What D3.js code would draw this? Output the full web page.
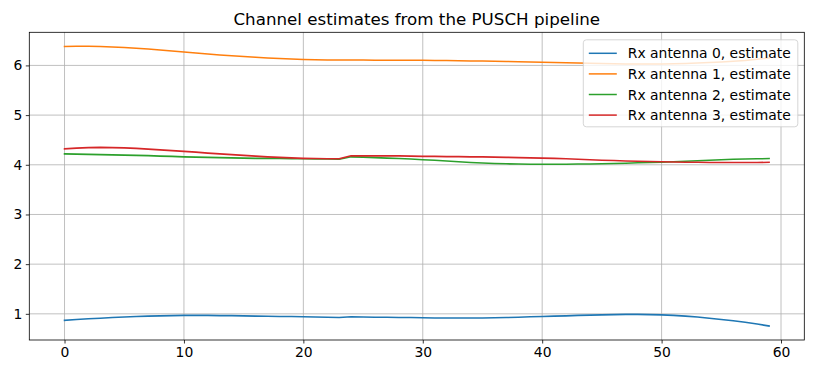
<!DOCTYPE html>
<html>
<head>
<meta charset="utf-8">
<script src="https://cdn.jsdelivr.net/npm/d3@7"></script>
<style>
  body { margin: 0; background: #fff; }
  text { font-family: "DejaVu Sans", sans-serif; }
</style>
</head>
<body>
<div id="chart"></div>
<script>
// subcarrier index 0..59 and one estimate per Rx antenna
const xTicks = [0, 10, 20, 30, 40, 50, 60];
const yTicks = [1, 2, 3, 4, 5, 6];
const seriesNames = ["Rx antenna 0, estimate", "Rx antenna 1, estimate",
                     "Rx antenna 2, estimate", "Rx antenna 3, estimate"];
const colors = ["#1f77b4", "#ff7f0e", "#2ca02c", "#d62728"];

const antenna0 = [0.87, 0.885, 0.90, 0.91, 0.925, 0.935, 0.945, 0.955, 0.96, 0.965,
  0.97, 0.97, 0.97, 0.965, 0.965, 0.96, 0.955, 0.95, 0.945, 0.945,
  0.94, 0.935, 0.93, 0.925, 0.94, 0.935, 0.93, 0.93, 0.925, 0.925,
  0.92, 0.915, 0.915, 0.915, 0.915, 0.915, 0.92, 0.925, 0.93, 0.94,
  0.945, 0.955, 0.96, 0.97, 0.975, 0.98, 0.985, 0.99, 0.99, 0.985,
  0.98, 0.97, 0.955, 0.935, 0.91, 0.885, 0.86, 0.83, 0.795, 0.755];
const antenna1 = [6.38, 6.385, 6.385, 6.38, 6.37, 6.36, 6.345, 6.33, 6.31, 6.29,
  6.27, 6.25, 6.23, 6.21, 6.195, 6.18, 6.165, 6.15, 6.14, 6.13,
  6.12, 6.115, 6.11, 6.11, 6.11, 6.11, 6.105, 6.105, 6.105, 6.105,
  6.105, 6.10, 6.10, 6.095, 6.09, 6.09, 6.085, 6.08, 6.075, 6.07,
  6.065, 6.06, 6.055, 6.05, 6.045, 6.04, 6.035, 6.03, 6.03, 6.03,
  6.03, 6.035, 6.04, 6.05, 6.06, 6.07, 6.085, 6.10, 6.125, 6.15];
const antenna2 = [4.22, 4.215, 4.21, 4.205, 4.20, 4.195, 4.19, 4.185, 4.175, 4.17,
  4.16, 4.155, 4.15, 4.145, 4.14, 4.135, 4.13, 4.13, 4.125, 4.12,
  4.12, 4.115, 4.115, 4.11, 4.16, 4.155, 4.145, 4.135, 4.125, 4.115,
  4.10, 4.09, 4.075, 4.06, 4.045, 4.035, 4.025, 4.02, 4.015, 4.01,
  4.01, 4.01, 4.01, 4.015, 4.015, 4.02, 4.025, 4.03, 4.04, 4.045,
  4.05, 4.06, 4.07, 4.08, 4.09, 4.10, 4.11, 4.115, 4.12, 4.125];
const antenna3 = [4.32, 4.335, 4.345, 4.35, 4.345, 4.34, 4.33, 4.315, 4.30, 4.285,
  4.27, 4.255, 4.235, 4.22, 4.205, 4.19, 4.175, 4.16, 4.15, 4.14,
  4.13, 4.125, 4.12, 4.12, 4.18, 4.18, 4.18, 4.18, 4.18, 4.175,
  4.17, 4.17, 4.165, 4.165, 4.16, 4.16, 4.155, 4.15, 4.145, 4.14,
  4.135, 4.13, 4.12, 4.11, 4.10, 4.09, 4.085, 4.075, 4.07, 4.065,
  4.06, 4.055, 4.05, 4.05, 4.045, 4.045, 4.045, 4.045, 4.045, 4.05];

const allSeries = [antenna0, antenna1, antenna2, antenna3];

const W = 813, H = 374;
const margin = {top: 32.3, right: 8.7, bottom: 34, left: 29.3};
const width = W - margin.left - margin.right;
const height = H - margin.top - margin.bottom;

const svg = d3.select("#chart").append("svg")
    .attr("width", W).attr("height", H);
const g = svg.append("g")
    .attr("transform", "translate(" + margin.left + "," + margin.top + ")");

// matplotlib style 5% padding around the data
const xMin = 0, xMax = antenna0.length - 1;
const xPad = (xMax - xMin) * 0.05;
const yMin = d3.min(allSeries, s => d3.min(s));
const yMax = d3.max(allSeries, s => d3.max(s));
const yPad = (yMax - yMin) * 0.05;

const x = d3.scaleLinear().domain([xMin - xPad, xMax + xPad]).range([0, width]);
const y = d3.scaleLinear().domain([yMin - yPad, yMax + yPad]).range([height, 0]);

// grid
g.append("g").selectAll("line").data(xTicks).enter().append("line")
    .attr("x1", d => x(d)).attr("x2", d => x(d))
    .attr("y1", 0).attr("y2", height)
    .attr("stroke", "#b0b0b0").attr("stroke-width", 0.8);
g.append("g").selectAll("line").data(yTicks).enter().append("line")
    .attr("y1", d => y(d)).attr("y2", d => y(d))
    .attr("x1", 0).attr("x2", width)
    .attr("stroke", "#b0b0b0").attr("stroke-width", 0.8);

// lines
const line = d3.line().x((d, i) => x(i)).y(d => y(d));
g.selectAll(".series").data(allSeries).enter().append("path")
    .attr("class", "series")
    .attr("d", line)
    .attr("fill", "none")
    .attr("stroke", (d, i) => colors[i])
    .attr("stroke-width", 1.6)
    .attr("stroke-linejoin", "round")
    .attr("stroke-linecap", "square");

// axes
const xAxis = g.append("g")
    .attr("transform", "translate(0," + height + ")")
    .call(d3.axisBottom(x).tickValues(xTicks).tickFormat(d3.format("d"))
        .tickSize(3.5).tickPadding(3.5).tickSizeOuter(0));
const yAxis = g.append("g")
    .call(d3.axisLeft(y).tickValues(yTicks).tickFormat(d3.format("d"))
        .tickSize(3.5).tickPadding(3.5).tickSizeOuter(0));
[xAxis, yAxis].forEach(a => {
    a.select(".domain").remove();
    a.selectAll("line").attr("stroke", "#000").attr("stroke-width", 0.8);
    a.selectAll("text").attr("font-size", "13.9px").attr("fill", "#000")
        .attr("font-family", "DejaVu Sans, sans-serif");
});

// frame
g.append("rect")
    .attr("x", 0).attr("y", 0).attr("width", width).attr("height", height)
    .attr("fill", "none").attr("stroke", "#000").attr("stroke-width", 0.8);

// title
svg.append("text")
    .attr("x", margin.left + width / 2).attr("y", 24.5)
    .attr("text-anchor", "middle")
    .attr("font-size", "16.7px")
    .text("Channel estimates from the PUSCH pipeline");

// legend
const legW = 214.5, legH = 87;
const leg = g.append("g")
    .attr("transform", "translate(" + (width - legW - 6.5) + ",7.5)");
leg.append("rect")
    .attr("width", legW).attr("height", legH).attr("rx", 3)
    .attr("fill", "#fff").attr("fill-opacity", 0.8)
    .attr("stroke", "#cccccc").attr("stroke-width", 0.8);
const items = leg.selectAll(".item").data(seriesNames).enter().append("g")
    .attr("transform", (d, i) => "translate(0," + (13.5 + i * 20.6) + ")");
items.append("line")
    .attr("x1", 5.5).attr("x2", 33.5)
    .attr("stroke", (d, i) => colors[i]).attr("stroke-width", 1.5);
items.append("text")
    .attr("x", 44.5).attr("dy", "0.36em")
    .attr("font-size", "13.9px")
    .text(d => d);
</script>
</body>
</html>
